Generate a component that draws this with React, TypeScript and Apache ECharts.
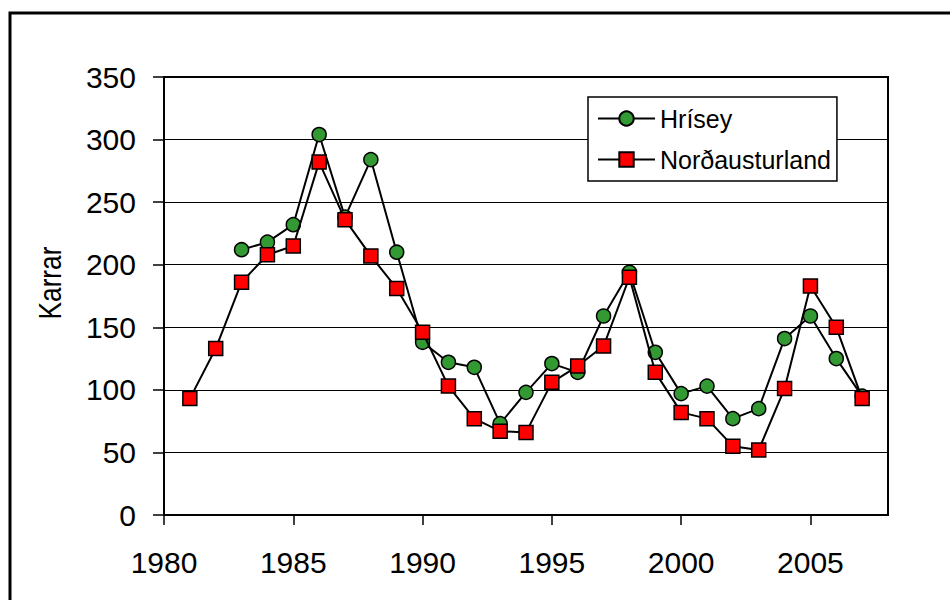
import React, { useEffect, useRef } from "react";
import * as echarts from "echarts";

const hriseyYears = [1983, 1984, 1985, 1986, 1987, 1988, 1989, 1990, 1991, 1992, 1993, 1994, 1995, 1996, 1997, 1998, 1999, 2000, 2001, 2002, 2003, 2004, 2005, 2006, 2007];
const hriseyValues = [212, 218, 232, 304, 238, 284, 210, 138, 122, 118, 73, 98, 121, 114, 159, 194, 130, 97, 103, 77, 85, 141, 159, 125, 95];

const norYears = [1981, 1982, 1983, 1984, 1985, 1986, 1987, 1988, 1989, 1990, 1991, 1992, 1993, 1994, 1995, 1996, 1997, 1998, 1999, 2000, 2001, 2002, 2003, 2004, 2005, 2006, 2007];
const norValues = [93, 133, 186, 208, 215, 282, 236, 207, 181, 146, 103, 77, 67, 66, 106, 119, 135, 190, 114, 82, 77, 55, 52, 101, 183, 150, 93];

const xTickLabels = [1980, 1985, 1990, 1995, 2000, 2005];
const seriesNames = ["Hrísey", "Norðausturland"];
const yAxisTitle = "Karrar";

const FONT = "'Liberation Sans', Arial, sans-serif";

export default function App() {
  const ref = useRef<HTMLDivElement>(null);
  useEffect(() => {
    if (!ref.current) return;
    const chart = echarts.init(ref.current, null, { renderer: "svg" });
    const option = {
      animation: false,
      backgroundColor: "#ffffff",
      graphic: [
        {
          type: "rect",
          shape: { x: 10, y: 13, width: 1200, height: 900 },
          style: { fill: "none", stroke: "#000", lineWidth: 3 },
          silent: true,
          z: -1,
        },
        {
          type: "text",
          x: 50,
          y: 283,
          rotation: Math.PI / 2,
          scaleX: 0.82,
          style: {
            text: yAxisTitle,
            fontSize: 32,
            fontFamily: FONT,
            fill: "#000",
            align: "center",
            verticalAlign: "middle",
          },
        },
      ],
      grid: {
        left: 164,
        right: 62,
        top: 77,
        bottom: 85,
        show: true,
        borderColor: "#000",
        borderWidth: 2,
        backgroundColor: "transparent",
      },
      legend: {
        orient: "vertical",
        left: 588,
        top: 97,
        backgroundColor: "#fff",
        borderColor: "#000",
        borderWidth: 1.5,
        borderRadius: 0,
        padding: [9, 6, 9, 9],
        itemGap: 16,
        itemWidth: 57,
        itemHeight: 18,
        textStyle: { fontSize: 25, fontFamily: FONT, color: "#000" },
        data: seriesNames,
      },
      xAxis: {
        type: "value",
        min: 1980,
        max: 2008,
        interval: 5,
        axisLine: { show: true, onZero: false, lineStyle: { color: "#000", width: 2 } },
        axisTick: {
          show: true,
          length: 10,
          customValues: xTickLabels,
          lineStyle: { color: "#000", width: 1.5 },
        },
        axisLabel: {
          customValues: xTickLabels,
          fontSize: 30,
          fontFamily: FONT,
          color: "#000",
          margin: 32,
          formatter: (v: number) => String(v),
        },
        splitLine: { show: false },
      },
      yAxis: {
        type: "value",
        min: 0,
        max: 350,
        interval: 50,
        axisLine: { show: true, lineStyle: { color: "#000", width: 2 } },
        axisTick: { show: true, length: 11, lineStyle: { color: "#000", width: 1.5 } },
        axisLabel: {
          fontSize: 30,
          fontFamily: FONT,
          color: "#000",
          margin: 28,
        },
        splitLine: { show: true, lineStyle: { color: "#000", width: 1 } },
      },
      series: [
        {
          name: seriesNames[0],
          type: "line",
          data: hriseyYears.map((y, i) => [y, hriseyValues[i]]),
          symbol: "circle",
          symbolSize: 14,
          showAllSymbol: true,
          lineStyle: { color: "#000", width: 2 },
          itemStyle: { color: "#339933", borderColor: "#000", borderWidth: 1.5 },
          z: 2,
        },
        {
          name: seriesNames[1],
          type: "line",
          data: norYears.map((y, i) => [y, norValues[i]]),
          symbol: "rect",
          symbolSize: 14,
          showAllSymbol: true,
          lineStyle: { color: "#000", width: 2 },
          itemStyle: { color: "#ff0000", borderColor: "#000", borderWidth: 1.5 },
          z: 3,
        },
      ],
    };
    chart.setOption(option as any);
    return () => chart.dispose();
  }, []);
  return (
    <div
      ref={ref}
      style={{ position: "fixed", left: 0, top: 0, width: 950, height: 600 }}
    />
  );
}
